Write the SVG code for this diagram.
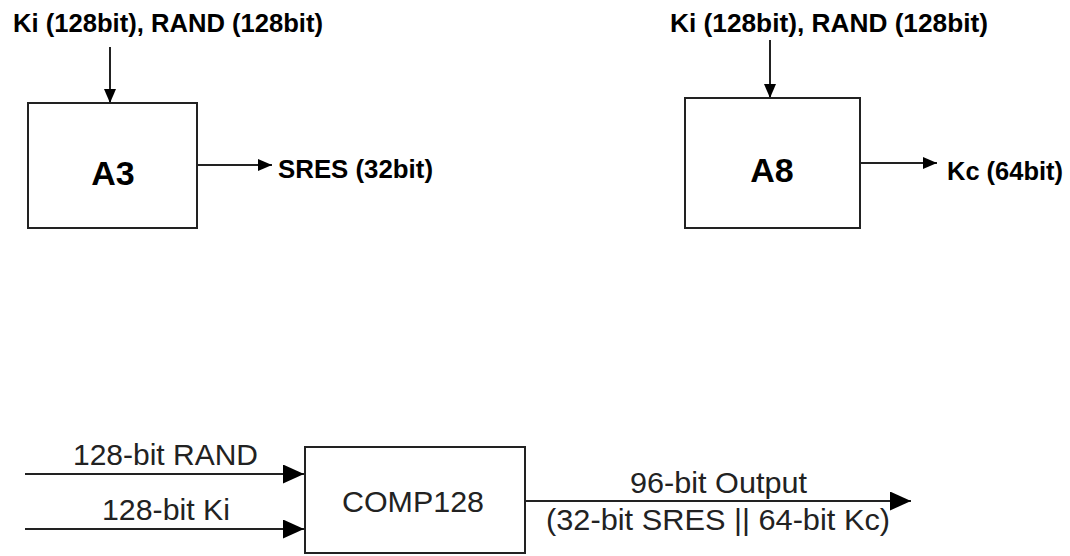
<svg xmlns="http://www.w3.org/2000/svg" width="1070" height="556" viewBox="0 0 1070 556">
<style>
.box{fill:#fff;stroke:#222;stroke-width:2}
.ln{fill:none;stroke:#222;stroke-width:2}
.bt{font-family:"Liberation Sans",Arial,sans-serif;font-weight:bold;fill:#000}
.rt{font-family:"Liberation Sans",Arial,sans-serif;fill:#222}
</style>
<defs>
<marker id="hs" markerUnits="userSpaceOnUse" markerWidth="14" markerHeight="12" refX="14" refY="6" orient="auto">
<path d="M0,0 L14,6 L0,12 z" fill="#000"/>
</marker>
<marker id="hl" markerUnits="userSpaceOnUse" markerWidth="21" markerHeight="19" refX="21" refY="9.5" orient="auto">
<path d="M0,0 L21,9.5 L0,19 z" fill="#000"/>
</marker>
</defs>
<rect width="1070" height="556" fill="#fff"/>
<g id="connectors">
<line class="ln" x1="110" y1="47" x2="110" y2="103" marker-end="url(#hs)"/>
<line class="ln" x1="197" y1="165" x2="272" y2="165" marker-end="url(#hs)"/>
<line class="ln" x1="770" y1="40" x2="770" y2="98" marker-end="url(#hs)"/>
<line class="ln" x1="860" y1="163" x2="937" y2="163" marker-end="url(#hs)"/>
<line class="ln" x1="25" y1="474" x2="304" y2="474" marker-end="url(#hl)"/>
<line class="ln" x1="25" y1="529" x2="304" y2="529" marker-end="url(#hl)"/>
<line class="ln" x1="525" y1="501" x2="911" y2="501" marker-end="url(#hl)"/>
</g>
<g id="labels">
<text class="bt" x="13" y="32" font-size="25" textLength="310" lengthAdjust="spacingAndGlyphs">Ki (128bit), RAND (128bit)</text>
<text class="bt" x="278" y="178" font-size="26" textLength="155" lengthAdjust="spacingAndGlyphs">SRES (32bit)</text>
<text class="bt" x="670" y="32" font-size="25" textLength="318" lengthAdjust="spacingAndGlyphs">Ki (128bit), RAND (128bit)</text>
<text class="bt" x="947" y="180" font-size="26" textLength="116" lengthAdjust="spacingAndGlyphs">Kc (64bit)</text>
<text class="rt" x="73" y="465" font-size="29" textLength="185" lengthAdjust="spacingAndGlyphs">128-bit RAND</text>
<text class="rt" x="102" y="520" font-size="29" textLength="128" lengthAdjust="spacingAndGlyphs">128-bit Ki</text>
<text class="rt" x="630" y="493" font-size="29" textLength="177" lengthAdjust="spacingAndGlyphs">96-bit Output</text>
<text class="rt" x="546" y="530" font-size="29" textLength="344" lengthAdjust="spacingAndGlyphs">(32-bit SRES || 64-bit Kc)</text>
</g>
<g id="A3">
<rect class="box" x="28" y="103" width="169" height="125"/>
<text class="bt" x="113" y="185" font-size="34" text-anchor="middle">A3</text>
</g>
<g id="A8">
<rect class="box" x="685" y="98" width="175" height="130"/>
<text class="bt" x="772" y="182" font-size="34" text-anchor="middle">A8</text>
</g>
<g id="COMP128">
<rect class="box" x="305" y="447" width="220" height="106"/>
<text class="rt" x="413" y="512" font-size="30" text-anchor="middle" textLength="142" lengthAdjust="spacingAndGlyphs">COMP128</text>
</g>
</svg>
